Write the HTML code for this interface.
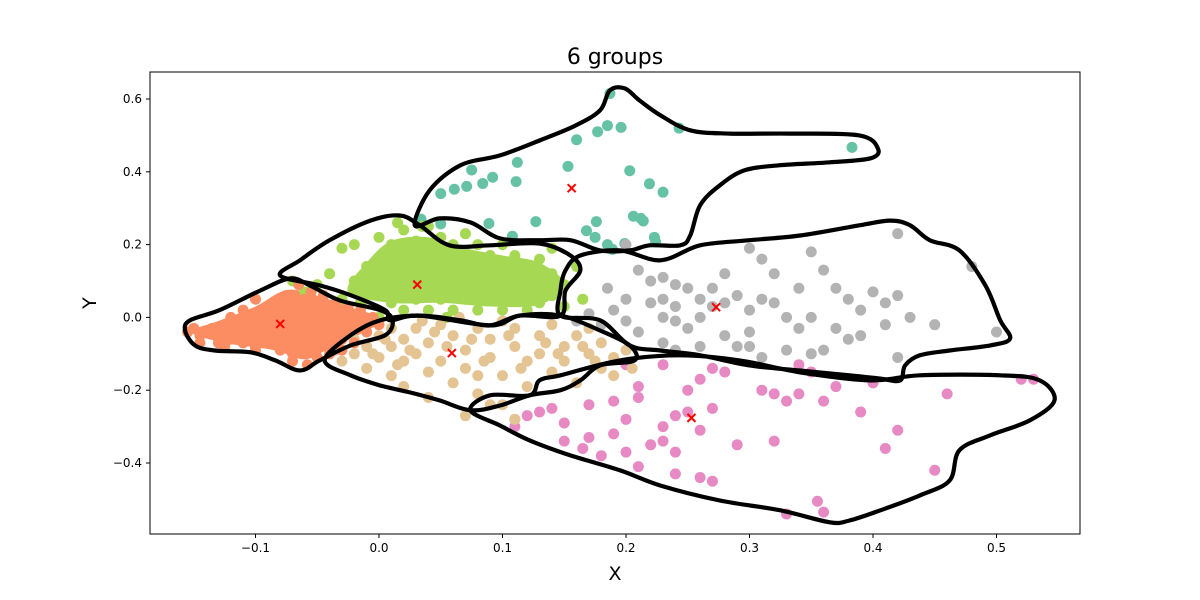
<!DOCTYPE html>
<html><head><meta charset="utf-8"><style>
body{margin:0;background:#fff;}
svg{display:block;font-family:"DejaVu Sans","Liberation Sans",sans-serif;}
</style></head><body>
<svg id="chart" width="1200" height="600">
<rect x="0" y="0" width="1200" height="600" fill="#fff"/>
<text x="615" y="64" text-anchor="middle" font-size="22">6 groups</text>
<g id="marks"></g>
<g id="axes"></g>
<text x="615" y="580" text-anchor="middle" font-size="19">X</text>
<text x="96" y="303" text-anchor="middle" font-size="19" transform="rotate(-90 96 303)">Y</text>
</svg>
<script>
const xTicks=[-0.1,0.0,0.1,0.2,0.3,0.4,0.5];
const xTickLabels=["−0.1","0.0","0.1","0.2","0.3","0.4","0.5"];
const yTicks=[-0.4,-0.2,0.0,0.2,0.4,0.6];
const yTickLabels=["−0.4","−0.2","0.0","0.2","0.4","0.6"];
const groupNames=["orange","yellowgreen","tan","teal","gray","pink"];
const groupColors=["#fc8d62","#a6d854","#e5c494","#66c2a5","#b3b3b3","#e78ac3"];
const centroidsX=[-0.08,0.031,0.059,0.156,0.273,0.253];
const centroidsY=[-0.018,0.09,-0.098,0.355,0.028,-0.276];
const orangePts=[[-0.155,-0.04],[-0.15,-0.03],[-0.145,-0.05],[-0.14,-0.04],[-0.135,-0.03],[-0.13,-0.05],[-0.125,-0.02],[-0.12,-0.04],[-0.12,-0.06],[-0.115,-0.01],[-0.11,-0.03],[-0.11,-0.07],[-0.105,0.0],[-0.1,-0.02],[-0.1,-0.05],[-0.1,-0.08],[-0.095,0.02],[-0.09,-0.01],[-0.09,-0.04],[-0.09,-0.07],[-0.085,0.04],[-0.08,0.01],[-0.08,-0.03],[-0.08,-0.06],[-0.08,-0.09],[-0.075,0.06],[-0.07,0.03],[-0.07,0.0],[-0.07,-0.04],[-0.07,-0.07],[-0.07,-0.1],[-0.065,0.09],[-0.06,0.05],[-0.06,0.02],[-0.06,-0.02],[-0.06,-0.05],[-0.06,-0.09],[-0.058,-0.13],[-0.055,0.07],[-0.05,0.04],[-0.05,0.0],[-0.05,-0.03],[-0.05,-0.07],[-0.05,-0.11],[-0.045,0.06],[-0.04,0.02],[-0.04,-0.01],[-0.04,-0.05],[-0.04,-0.09],[-0.035,0.04],[-0.03,0.01],[-0.03,-0.02],[-0.03,-0.06],[-0.025,0.03],[-0.02,0.0],[-0.02,-0.03],[-0.02,-0.07],[-0.015,0.02],[-0.01,-0.01],[-0.01,-0.04],[-0.005,0.0],[0.0,-0.02],[-0.13,-0.07],[-0.11,0.02],[-0.09,0.03],[-0.03,-0.09],[-0.04,-0.1],[-0.07,-0.12],[-0.1,-0.09],[-0.125,-0.08],[-0.1,0.05],[-0.12,0.0],[-0.145,-0.07]];
const orangeCore=[[-0.152,-0.04],[-0.13,-0.01],[-0.1,0.03],[-0.075,0.075],[-0.05,0.06],[-0.025,0.03],[0.002,-0.005],[-0.015,-0.045],[-0.04,-0.085],[-0.06,-0.115],[-0.085,-0.09],[-0.125,-0.07]];
const greenCore=[[-0.025,0.07],[-0.01,0.15],[0.01,0.21],[0.04,0.22],[0.07,0.19],[0.1,0.17],[0.13,0.15],[0.15,0.09],[0.13,0.035],[0.09,0.03],[0.05,0.04],[0.01,0.04]];
const greenPts=[[-0.03,0.05],[-0.02,0.1],[-0.01,0.08],[-0.03,0.19],[-0.02,0.2],[-0.01,0.14],[0.0,0.12],[0.0,0.06],[0.01,0.2],[0.01,0.16],[0.01,0.1],[0.01,0.04],[0.02,0.24],[0.02,0.18],[0.02,0.13],[0.02,0.07],[0.02,0.02],[0.03,0.21],[0.03,0.15],[0.03,0.11],[0.03,0.05],[0.04,0.25],[0.04,0.19],[0.04,0.13],[0.04,0.08],[0.04,0.02],[0.05,0.17],[0.05,0.11],[0.05,0.05],[0.06,0.2],[0.06,0.14],[0.06,0.08],[0.06,0.02],[0.07,0.23],[0.07,0.17],[0.07,0.11],[0.07,0.05],[0.08,0.2],[0.08,0.14],[0.08,0.08],[0.08,0.02],[0.09,0.17],[0.09,0.11],[0.09,0.05],[0.1,0.2],[0.1,0.14],[0.1,0.08],[0.1,0.02],[0.11,0.17],[0.11,0.11],[0.11,0.05],[0.12,0.14],[0.12,0.08],[0.12,0.02],[0.13,0.16],[0.13,0.1],[0.13,0.04],[0.14,0.12],[0.14,0.06],[0.14,0.19],[0.15,0.09],[0.15,0.03],[0.16,0.14],[-0.05,0.09],[-0.06,0.07],[-0.07,0.1],[0.0,0.22],[0.05,0.22],[0.015,0.26],[0.035,0.25],[0.165,0.05],[0.055,0.0],[0.0,0.0],[-0.015,0.04],[0.025,0.1],[0.045,0.16],[0.065,0.11],[0.085,0.05],[0.105,0.11],[0.125,0.05],[0.015,0.13],[-0.04,0.12]];
const tanPts=[[-0.035,-0.09],[-0.03,-0.12],[-0.02,-0.06],[-0.02,-0.1],[-0.01,-0.14],[-0.01,-0.08],[0.0,-0.05],[0.0,-0.11],[0.01,-0.16],[0.01,-0.08],[0.01,-0.03],[0.02,-0.12],[0.02,-0.06],[0.02,-0.19],[0.03,-0.1],[0.03,-0.03],[0.04,-0.15],[0.04,-0.07],[0.05,-0.12],[0.05,-0.02],[0.06,-0.18],[0.06,-0.05],[0.07,-0.09],[0.07,-0.14],[0.08,-0.03],[0.08,-0.21],[0.09,-0.11],[0.09,-0.06],[0.1,-0.16],[0.1,-0.24],[0.11,-0.08],[0.11,-0.03],[0.12,-0.12],[0.12,-0.19],[0.13,-0.05],[0.13,-0.1],[0.14,-0.15],[0.14,-0.02],[0.15,-0.08],[0.15,-0.12],[0.16,-0.05],[0.16,-0.18],[0.17,-0.1],[0.17,-0.03],[0.18,-0.14],[0.18,-0.07],[0.19,-0.11],[0.19,-0.16],[0.2,-0.09],[0.205,-0.14],[0.07,-0.27],[0.09,-0.24],[0.11,-0.28],[0.08,-0.16],[0.04,-0.22],[0.035,-0.01],[0.065,0.0],[0.1,-0.01],[0.005,-0.06],[0.025,-0.09],[0.045,-0.04],[0.055,-0.08],[0.015,-0.13],[-0.005,-0.1],[0.075,-0.06],[0.085,-0.12],[0.105,-0.05],[0.115,-0.14],[0.135,-0.07],[0.145,-0.1],[0.165,-0.08],[0.175,-0.12]];
const tealPts=[[0.187,0.615],[0.160,0.488],[0.177,0.51],[0.185,0.527],[0.196,0.522],[0.243,0.52],[0.383,0.467],[0.153,0.415],[0.112,0.426],[0.111,0.373],[0.092,0.385],[0.084,0.368],[0.071,0.36],[0.061,0.352],[0.05,0.34],[0.075,0.405],[0.203,0.403],[0.219,0.367],[0.23,0.344],[0.206,0.278],[0.212,0.272],[0.214,0.265],[0.176,0.263],[0.168,0.238],[0.175,0.22],[0.185,0.2],[0.199,0.203],[0.223,0.22],[0.224,0.207],[0.189,0.187],[0.127,0.263],[0.089,0.258],[0.108,0.223],[0.05,0.257],[0.034,0.27]];
const grayPts=[[0.21,0.13],[0.185,0.08],[0.2,0.05],[0.22,0.1],[0.23,0.11],[0.24,0.09],[0.25,0.08],[0.23,0.05],[0.22,0.04],[0.19,0.02],[0.17,0.01],[0.16,-0.01],[0.18,-0.02],[0.2,-0.01],[0.21,-0.04],[0.23,0.0],[0.24,0.03],[0.25,-0.03],[0.26,-0.08],[0.24,-0.09],[0.23,-0.07],[0.28,-0.05],[0.29,-0.08],[0.3,-0.04],[0.31,-0.11],[0.33,-0.09],[0.35,-0.1],[0.36,-0.09],[0.34,-0.03],[0.32,0.04],[0.31,0.05],[0.3,0.02],[0.29,0.06],[0.27,0.08],[0.28,0.12],[0.3,0.19],[0.31,0.16],[0.32,0.12],[0.34,0.08],[0.36,0.13],[0.37,0.08],[0.38,0.05],[0.39,0.02],[0.4,0.07],[0.41,0.04],[0.42,0.06],[0.43,0.0],[0.41,-0.02],[0.39,-0.05],[0.35,0.18],[0.42,0.23],[0.48,0.14],[0.5,-0.04],[0.45,-0.02],[0.37,-0.03],[0.38,-0.06],[0.33,0.0],[0.26,0.0],[0.27,0.03],[0.2,0.2],[0.24,-0.01],[0.26,0.05],[0.28,0.04],[0.3,-0.08],[0.35,0.0],[0.42,-0.11]];
const pinkPts=[[0.11,-0.28],[0.12,-0.27],[0.13,-0.26],[0.11,-0.3],[0.15,-0.29],[0.14,-0.25],[0.17,-0.24],[0.17,-0.33],[0.165,-0.36],[0.18,-0.38],[0.2,-0.28],[0.21,-0.22],[0.23,-0.3],[0.24,-0.27],[0.25,-0.26],[0.22,-0.35],[0.23,-0.34],[0.24,-0.37],[0.26,-0.44],[0.27,-0.45],[0.25,-0.2],[0.26,-0.17],[0.28,-0.15],[0.27,-0.25],[0.29,-0.35],[0.31,-0.2],[0.32,-0.21],[0.33,-0.23],[0.32,-0.34],[0.33,-0.54],[0.355,-0.505],[0.36,-0.535],[0.35,-0.15],[0.34,-0.21],[0.37,-0.19],[0.36,-0.23],[0.39,-0.26],[0.4,-0.18],[0.41,-0.36],[0.42,-0.31],[0.45,-0.42],[0.46,-0.21],[0.52,-0.17],[0.53,-0.17],[0.21,-0.41],[0.2,-0.37],[0.23,-0.13],[0.2,-0.13],[0.21,-0.19],[0.19,-0.23],[0.24,-0.43],[0.15,-0.34],[0.26,-0.31],[0.27,-0.14],[0.34,-0.13],[0.19,-0.32]];
const contourOrange=[[-0.157,-0.036],[-0.153,-0.008],[-0.129,0.02],[-0.096,0.074],[-0.072,0.107],[-0.056,0.088],[-0.032,0.047],[0.001,0.02],[0.011,-0.008],[0.005,-0.049],[-0.023,-0.077],[-0.048,-0.118],[-0.064,-0.146],[-0.084,-0.118],[-0.104,-0.096],[-0.133,-0.091],[-0.149,-0.077]];
const contourGreen=[[-0.08,0.115],[-0.064,0.157],[-0.04,0.212],[-0.007,0.266],[0.017,0.28],[0.033,0.253],[0.057,0.198],[0.09,0.198],[0.13,0.203],[0.155,0.170],[0.163,0.129],[0.151,0.074],[0.147,0.005],[0.114,0.005],[0.09,-0.022],[0.033,0.005],[0.009,-0.008],[0.005,0.02],[-0.023,0.061],[-0.048,0.088]];
const contourTan=[[-0.044,-0.118],[-0.023,-0.049],[0.001,-0.008],[0.033,0.005],[0.066,-0.008],[0.09,-0.022],[0.114,0.005],[0.147,0.005],[0.179,-0.036],[0.203,-0.077],[0.207,-0.118],[0.179,-0.132],[0.163,-0.173],[0.147,-0.2],[0.122,-0.214],[0.098,-0.242],[0.074,-0.255],[0.049,-0.228],[0.025,-0.206],[0.001,-0.187],[-0.023,-0.159]];
const contourTeal=[[0.029,0.253],[0.041,0.349],[0.066,0.418],[0.098,0.445],[0.130,0.486],[0.159,0.527],[0.179,0.569],[0.187,0.624],[0.199,0.629],[0.211,0.596],[0.228,0.555],[0.252,0.514],[0.284,0.505],[0.333,0.505],[0.389,0.5],[0.404,0.464],[0.398,0.437],[0.365,0.426],[0.325,0.418],[0.296,0.404],[0.276,0.363],[0.26,0.308],[0.252,0.225],[0.244,0.198],[0.219,0.198],[0.203,0.184],[0.179,0.184],[0.155,0.212],[0.130,0.212],[0.098,0.217],[0.074,0.261],[0.049,0.272]];
const contourGray=[[0.147,0.074],[0.151,0.129],[0.163,0.170],[0.195,0.184],[0.228,0.157],[0.26,0.198],[0.3,0.212],[0.341,0.225],[0.389,0.253],[0.414,0.266],[0.43,0.253],[0.446,0.212],[0.47,0.184],[0.491,0.088],[0.503,-0.008],[0.511,-0.058],[0.495,-0.077],[0.462,-0.091],[0.438,-0.104],[0.426,-0.132],[0.422,-0.173],[0.406,-0.168],[0.381,-0.159],[0.341,-0.146],[0.3,-0.132],[0.26,-0.104],[0.228,-0.091],[0.203,-0.077],[0.179,-0.008],[0.147,0.005]];
const contourPink=[[0.13,-0.173],[0.147,-0.159],[0.195,-0.118],[0.244,-0.104],[0.292,-0.118],[0.341,-0.151],[0.398,-0.173],[0.438,-0.159],[0.503,-0.159],[0.535,-0.173],[0.547,-0.228],[0.527,-0.283],[0.495,-0.324],[0.47,-0.365],[0.462,-0.448],[0.438,-0.489],[0.406,-0.53],[0.381,-0.558],[0.365,-0.563],[0.325,-0.53],[0.276,-0.503],[0.228,-0.462],[0.195,-0.420],[0.155,-0.379],[0.122,-0.338],[0.098,-0.297],[0.074,-0.255],[0.09,-0.214],[0.122,-0.214]];

const NS="http://www.w3.org/2000/svg";
const L=150,R=1080,T=72,B=534;
const x0px=379,xScale=1235,y0px=317.4,yScale=364;
function sx(v){return x0px+v*xScale;}
function sy(v){return y0px-v*yScale;}
const marks=document.getElementById('marks');
const axes=document.getElementById('axes');
function mk(tag,attrs,parent){const e=document.createElementNS(NS,tag);for(const k in attrs)e.setAttribute(k,attrs[k]);parent.appendChild(e);return e;}
function smoothPath(pts){
  const n=pts.length;const P=pts.map(p=>[sx(p[0]),sy(p[1])]);
  let d="M"+P[0][0].toFixed(1)+","+P[0][1].toFixed(1);
  for(let i=0;i<n;i++){
    const p0=P[(i-1+n)%n],p1=P[i],p2=P[(i+1)%n],p3=P[(i+2)%n];
    const c1=[p1[0]+(p2[0]-p0[0])/6,p1[1]+(p2[1]-p0[1])/6];
    const c2=[p2[0]-(p3[0]-p1[0])/6,p2[1]-(p3[1]-p1[1])/6];
    d+="C"+c1[0].toFixed(1)+","+c1[1].toFixed(1)+" "+c2[0].toFixed(1)+","+c2[1].toFixed(1)+" "+p2[0].toFixed(1)+","+p2[1].toFixed(1);
  }
  return d+"Z";
}
const gcore=mk('path',{d:smoothPath(greenCore),fill:groupColors[1]},marks);


const core=mk('path',{d:smoothPath(orangeCore),fill:groupColors[0]},marks);


const allPts=[orangePts,greenPts,tanPts,tealPts,grayPts,pinkPts];
const drawOrder=[3,4,5,2,1,0];
drawOrder.forEach(gi=>{
  const g=mk('g',{},marks);
  
  
  allPts[gi].forEach(p=>{
    const c=mk('circle',{cx:sx(p[0]),cy:sy(p[1]),r:5.5,fill:groupColors[gi]},g);
    
    
  });
});
const contours=[contourOrange,contourGreen,contourTan,contourTeal,contourGray,contourPink];
contours.forEach((c,i)=>{
  const p=mk('path',{d:smoothPath(c),fill:'none',stroke:'#000','stroke-width':4.2,'stroke-linejoin':'round'},marks);
  
  
});
centroidsX.forEach((cx,i)=>{
  const X=sx(cx),Y=sy(centroidsY[i]),s=4;
  const m=mk('path',{d:`M${X-s},${Y-s}L${X+s},${Y+s}M${X-s},${Y+s}L${X+s},${Y-s}`,stroke:'#ff0000','stroke-width':2},marks);
  
  
});
const frame=mk('rect',{x:L,y:T,width:R-L,height:B-T,fill:'none',stroke:'#000','stroke-width':1},axes);


xTicks.forEach((v,i)=>{
  const X=sx(v);
  const t=mk('line',{x1:X,y1:B,x2:X,y2:B+4,stroke:'#000'},axes);
  
  
  const lb=mk('text',{x:X,y:B+18,'text-anchor':'middle','font-size':12},axes);
  lb.textContent=xTickLabels[i];
  
  
});
yTicks.forEach((v,i)=>{
  const Y=sy(v);
  const t=mk('line',{x1:L-4,y1:Y,x2:L,y2:Y,stroke:'#000'},axes);
  
  
  const lb=mk('text',{x:L-8,y:Y+4,'text-anchor':'end','font-size':12},axes);
  lb.textContent=yTickLabels[i];
  
  
});
</script>
</body></html>
